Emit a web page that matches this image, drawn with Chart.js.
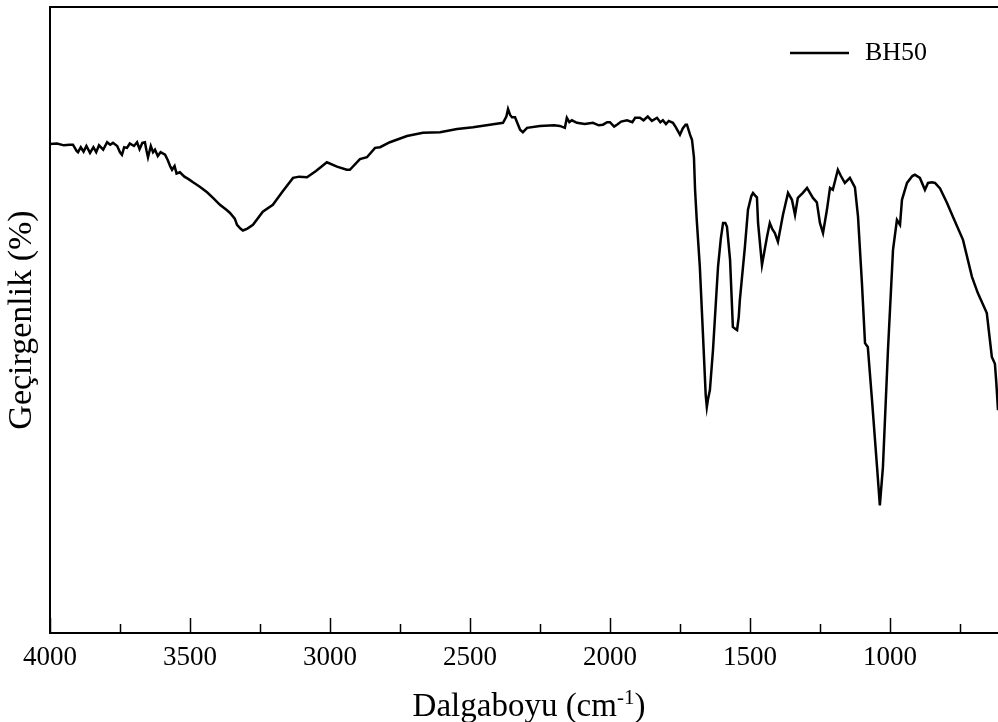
<!DOCTYPE html>
<html>
<head>
<meta charset="utf-8">
<script src="https://cdn.jsdelivr.net/npm/chart.js@4.4.1/dist/chart.umd.min.js"></script>
<style>
html,body{margin:0;padding:0;background:#fff;overflow:hidden;}
#wrap{width:998px;height:722px;position:relative;}
</style>
</head>
<body>
<div id="wrap"><canvas id="c" width="998" height="722"></canvas></div>
<script>
const seriesName = "BH50";
const xTitleMain = "Dalgaboyu (cm";
const xTitleSup = "-1";
const xTitleEnd = ")";
const yTitle = "Geçirgenlik (%)";
const majorTicks = [4000, 3500, 3000, 2500, 2000, 1500, 1000];
const minorTicks = [3750, 3250, 2750, 2250, 1750, 1250, 750];
const wavenumbers = [
4000,3975,3950,3930,3918,3905,3900,3890,3880,3870,3857,3845,3835,3825,3810,3796,3785,3775,3760,3750,
3743,3735,3725,3715,3700,3689,3680,3670,3661,3655,3650,3640,3632,3625,3615,3605,3589,3580,3570,3564,
3555,3548,3536,3520,3505,3489,3465,3439,3415,3393,3370,3357,3340,3332,3320,3311,3295,3275,3240,3204,
3170,3132,3110,3082,3050,3011,2975,2940,2929,2893,2868,2839,2821,2786,2725,2668,2607,2546,2489,2429,
2382,2370,2364,2357,2350,2339,2321,2311,2296,2250,2200,2179,2161,2154,2145,2136,2118,2090,2061,2040,
2025,2010,2000,1985,1975,1960,1939,1920,1910,1893,1880,1865,1850,1832,1820,1811,1800,1790,1775,1765,
1750,1740,1730,1725,1714,1707,1700,1696,1690,1679,1668,1658,1654,1650,1643,1632,1614,1604,1596,1588,
1582,1571,1561,1553,1546,1540,1536,1518,1507,1495,1489,1480,1475,1471,1457,1439,1429,1420,1411,1400,
1382,1364,1350,1339,1329,1311,1296,1275,1261,1250,1239,1225,1214,1204,1186,1175,1161,1143,1125,1114,
1100,1089,1079,1064,1046,1036,1025,1007,989,975,964,957,939,920,911,893,875,864,850,839,
821,796,775,739,707,686,654,636,625,620,614
];
const transmittance = [
78.1,78.2,77.9,78.0,78.0,77.0,76.8,77.6,76.9,77.8,76.7,77.6,76.8,77.9,77.2,78.4,78.0,78.3,77.8,76.8,
76.4,77.6,77.5,78.2,77.8,78.4,77.3,78.3,78.4,77.0,76.0,77.8,76.8,77.2,76.2,76.8,76.4,75.6,74.5,74.0,
74.6,73.4,73.6,72.9,72.5,72.0,71.3,70.4,69.4,68.4,67.6,67.1,66.2,65.2,64.6,64.3,64.6,65.2,67.3,68.4,
70.5,72.7,72.9,72.8,73.8,75.2,74.5,74.0,74.0,75.7,76.0,77.5,77.6,78.4,79.4,79.9,80.0,80.5,80.8,81.2,
81.5,82.5,83.7,82.8,82.4,82.4,80.4,80.0,80.7,81.0,81.1,81.0,80.7,82.3,81.6,81.9,81.5,81.3,81.5,81.1,
81.2,81.6,81.6,80.9,81.2,81.7,81.9,81.6,82.3,82.3,81.9,82.5,81.8,82.3,81.6,81.9,81.3,81.8,81.5,80.8,
79.6,80.6,81.2,81.2,79.6,78.8,76.0,70.8,66.0,58.5,47.9,38.0,36.1,37.3,38.8,45.2,58.5,63.0,65.5,65.5,
64.9,59.6,48.9,48.6,48.4,50.5,53.2,61.7,67.6,69.8,70.3,69.8,69.6,65.5,58.8,63.3,65.5,64.5,63.9,62.5,
66.8,70.3,69.2,66.8,69.5,70.3,71.1,69.5,68.8,65.5,63.9,67.6,71.1,70.8,74.0,73.0,71.9,72.7,71.2,66.5,
55.9,46.3,45.7,37.2,26.5,20.4,26.5,45.2,61.2,66.0,65.2,69.2,71.9,73.0,73.2,72.7,70.8,71.9,72.0,71.9,
71.0,68.7,66.5,62.8,56.9,54.3,51.1,44.1,43.0,40.0,35.6
];
const xRange = [614, 4000];
const yRange = [0, 100];

const points = wavenumbers.map((w, i) => ({x: w, y: transmittance[i]}));
const FONT = "'Liberation Serif','Times New Roman',serif";

const framePlugin = {
  id: 'frame',
  afterDraw(chart) {
    const ctx = chart.ctx;
    const a = chart.chartArea;
    const xs = chart.scales.x;
    ctx.save();
    ctx.strokeStyle = '#000';
    ctx.lineWidth = 2;
    ctx.beginPath();
    ctx.moveTo(a.left, a.top);
    ctx.lineTo(a.right, a.top);
    ctx.stroke();
    ctx.lineWidth = 1.5;
    majorTicks.forEach(v => {
      const px = Math.round(xs.getPixelForValue(v)) + 0.5;
      ctx.beginPath(); ctx.moveTo(px, a.bottom); ctx.lineTo(px, a.bottom - 15); ctx.stroke();
    });
    minorTicks.forEach(v => {
      const px = Math.round(xs.getPixelForValue(v)) + 0.5;
      ctx.beginPath(); ctx.moveTo(px, a.bottom); ctx.lineTo(px, a.bottom - 9); ctx.stroke();
    });
    // legend
    const ds = chart.data.datasets[0];
    const lx = a.right - 208, ly = a.top + 46;
    ctx.lineWidth = 2.5;
    ctx.strokeStyle = ds.borderColor;
    ctx.beginPath(); ctx.moveTo(lx, ly); ctx.lineTo(lx + 59, ly); ctx.stroke();
    ctx.fillStyle = '#000';
    ctx.font = "26px " + FONT;
    ctx.textBaseline = 'middle';
    ctx.textAlign = 'left';
    ctx.fillText(ds.label, lx + 75, ly);
    // x title with superscript
    const bigF = "33px " + FONT, supF = "21px " + FONT;
    ctx.textBaseline = 'alphabetic';
    ctx.font = bigF; const w1 = ctx.measureText(xTitleMain).width; const w3 = ctx.measureText(xTitleEnd).width;
    ctx.font = supF; const w2 = ctx.measureText(xTitleSup).width;
    const total = w1 + w2 + w3;
    let tx = (a.left + a.right) / 2 + 5 - total / 2;
    const base = chart.height - 6;
    ctx.font = bigF; ctx.fillText(xTitleMain, tx, base); tx += w1;
    ctx.font = supF; ctx.fillText(xTitleSup, tx, base - 12); tx += w2;
    ctx.font = bigF; ctx.fillText(xTitleEnd, tx, base);
    ctx.restore();
  }
};

new Chart(document.getElementById('c'), {
  type: 'line',
  data: {
    datasets: [{
      label: seriesName,
      data: points,
      borderColor: '#000',
      borderWidth: 2.5,
      pointRadius: 0,
      tension: 0,
      fill: false
    }]
  },
  options: {
    responsive: false,
    animation: false,
    layout: {padding: {top: 7, right: 0, left: 0, bottom: 0}},
    plugins: {legend: {display: false}, tooltip: {enabled: false}},
    scales: {
      x: {
        type: 'linear',
        reverse: true,
        min: xRange[0],
        max: xRange[1],
        afterBuildTicks(scale) { scale.ticks = majorTicks.map(v => ({value: v})); },
        afterFit(scale) { scale.height = 89; },
        grid: {display: false, drawTicks: false},
        border: {display: true, color: '#000', width: 2},
        ticks: {color: '#000', padding: 9, maxRotation: 0, autoSkip: false,
          font: {family: FONT, size: 27}, callback: v => String(v)},
        title: {display: false}
      },
      y: {
        min: yRange[0],
        max: yRange[1],
        afterFit(scale) { scale.width = 50; },
        grid: {display: false, drawTicks: false},
        border: {display: true, color: '#000', width: 2},
        ticks: {display: false},
        title: {display: true, text: yTitle, color: '#000',
          font: {family: FONT, size: 34}, padding: {top: 2, bottom: 0}}
      }
    }
  },
  plugins: [framePlugin]
});
</script>
</body>
</html>
